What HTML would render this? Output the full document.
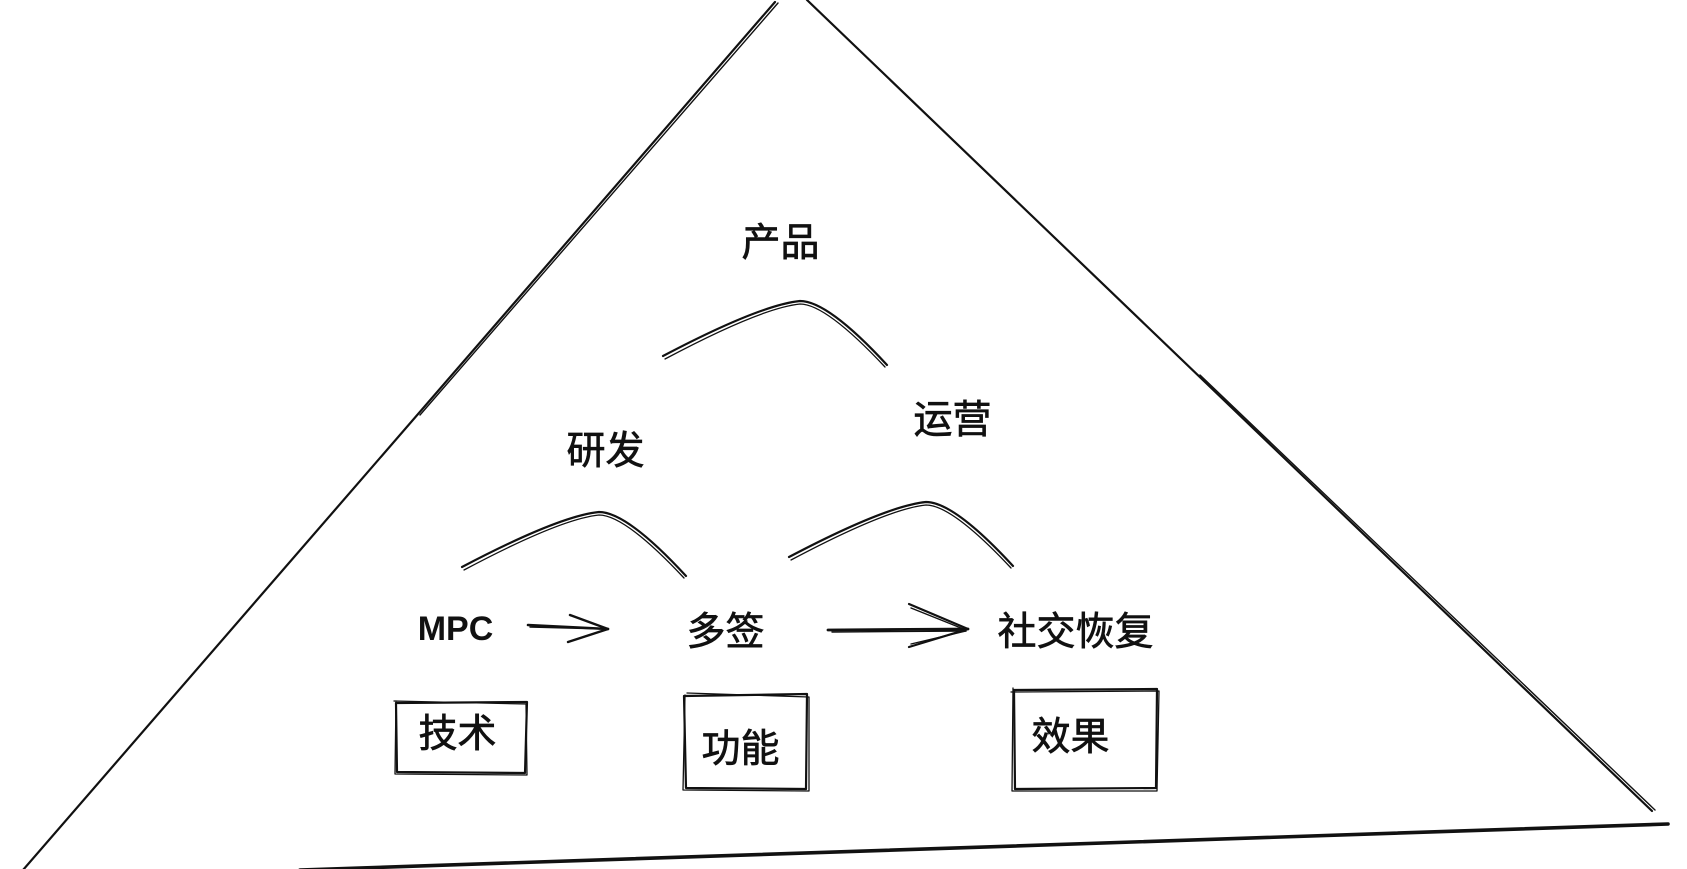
<!DOCTYPE html>
<html>
<head>
<meta charset="utf-8">
<style>
  html,body{margin:0;padding:0;background:#fff;}
  body{width:1687px;height:869px;overflow:hidden;}
  svg{display:block;}
  .cjk{font-family:"Liberation Sans","Noto Sans CJK SC",sans-serif;font-size:39px;fill:#111;stroke:#111;stroke-width:0.7px;}
  .lat{font-family:"Liberation Sans",sans-serif;font-weight:bold;font-size:34px;fill:#111;}
</style>
</head>
<body>
<svg width="1687" height="869" viewBox="0 0 1687 869" xmlns="http://www.w3.org/2000/svg">
  <g fill="none" stroke="#111" stroke-linecap="round" stroke-linejoin="round">
    <!-- triangle left edge -->
    <path d="M775,2 L23,870" stroke-width="2.2"/>
    <path d="M778,3 L420,415" stroke-width="1.4"/>
    <!-- triangle right edge -->
    <path d="M807,0 L1652,811" stroke-width="2.2"/>
    <path d="M1200,375 L1655,810" stroke-width="1.4"/>
    <!-- bottom edge -->
    <path d="M300,870 L1668,824" stroke-width="3.6"/>

    <!-- curves -->
    <g transform="translate(663,356)">
      <path d="M0,0 Q97,-51 137,-55 Q165,-55 224,9" stroke-width="2.2"/>
      <path d="M2,3 Q98,-48 137,-52 Q163,-52 222,11" stroke-width="1.3"/>
    </g>
    <g transform="translate(462,567)">
      <path d="M0,0 Q97,-51 137,-55 Q165,-55 224,9" stroke-width="2.2"/>
      <path d="M2,3 Q98,-48 137,-52 Q163,-52 222,11" stroke-width="1.3"/>
    </g>
    <g transform="translate(789,557)">
      <path d="M0,0 Q97,-51 137,-55 Q165,-55 224,9" stroke-width="2.2"/>
      <path d="M2,3 Q98,-48 137,-52 Q163,-52 222,11" stroke-width="1.3"/>
    </g>

    <!-- arrow 1 -->
    <path d="M528,625 L608,629" stroke-width="2.6"/>
    <path d="M530,627 L606,629" stroke-width="1.4"/>
    <path d="M570,615 L608,629" stroke-width="2.4"/>
    <path d="M568,642 L608,629" stroke-width="2.4"/>

    <!-- arrow 2 -->
    <path d="M828,630 L968,629" stroke-width="2.8"/>
    <path d="M832,632 L966,631" stroke-width="1.4"/>
    <path d="M909,604 L968,629" stroke-width="2.2"/>
    <path d="M911,608 L966,630" stroke-width="1.4"/>
    <path d="M909,647 L968,629" stroke-width="2.2"/>
    <path d="M911,644 L966,631" stroke-width="1.4"/>

    <!-- box 技术 -->
    <path d="M396,703 L527,702 L525,773 L397,772 Z" stroke-width="2.2"/>
    <path d="M394,701 L526,704 L527,775 L395,774 L396,701" stroke-width="1.3"/>
    <!-- box 功能 -->
    <path d="M684,696 L807,694 L806,789 L686,788 Z" stroke-width="2.2"/>
    <path d="M687,693 L809,697 L809,791 L683,790 L685,695" stroke-width="1.3"/>
    <!-- box 效果 -->
    <path d="M1014,690 L1157,689 L1156,788 L1015,789 Z" stroke-width="2.2"/>
    <path d="M1011,692 L1159,691 L1157,791 L1012,791 L1013,688" stroke-width="1.3"/>
  </g>

  <g text-anchor="middle">
    <text class="cjk" x="780.5" y="256">产品</text>
    <text class="cjk" x="605.5" y="464">研发</text>
    <text class="cjk" x="952.5" y="433">运营</text>
    <text class="lat" x="455.5" y="640">MPC</text>
    <text class="cjk" x="725.5" y="645">多签</text>
    <text class="cjk" x="1075.5" y="645">社交恢复</text>
    <text class="cjk" x="457.5" y="747">技术</text>
    <text class="cjk" x="740.5" y="762">功能</text>
    <text class="cjk" x="1070.5" y="750">效果</text>
  </g>
</svg>
</body>
</html>
